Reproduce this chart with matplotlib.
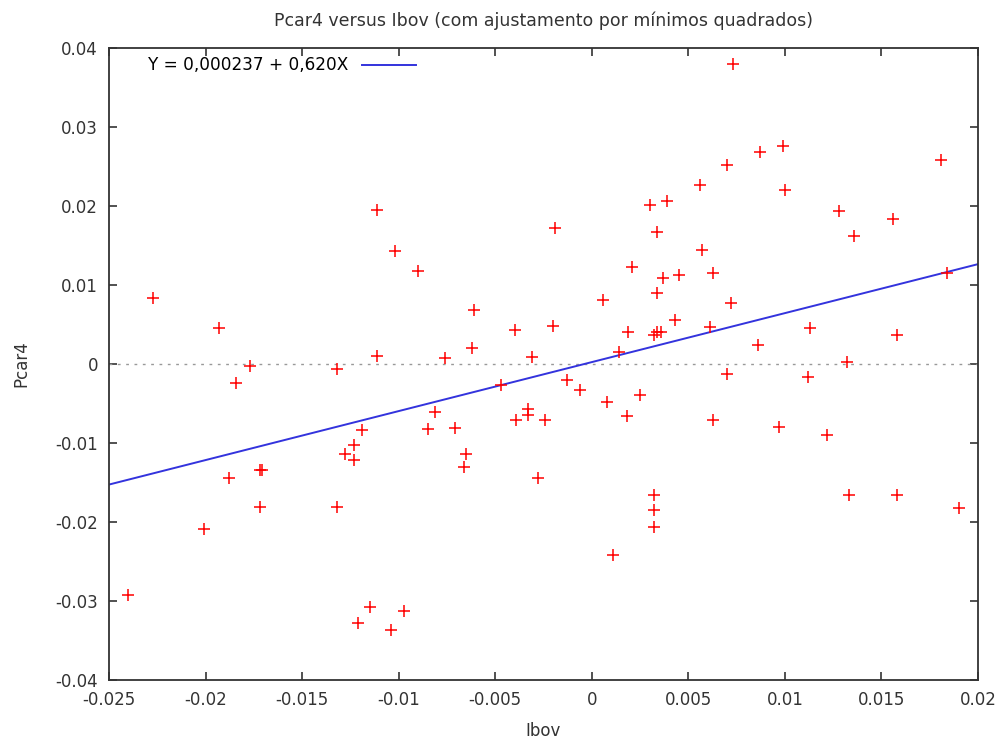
import numpy as np
import matplotlib
matplotlib.use('Agg')
import matplotlib.pyplot as plt

# dados (Ibov, Pcar4)
ibov = [-0.0240, -0.0227, -0.0201, -0.0193, -0.0188, -0.0184, -0.0177, -0.0172, -0.0171, -0.0172,
        -0.0132, -0.0132, -0.0128, -0.0123, -0.0123, -0.0119, -0.0121, -0.0115, -0.0111, -0.0111,
        -0.0104, -0.0102, -0.0097, -0.0090, -0.0085, -0.0081, -0.0076, -0.0071, -0.0066, -0.0065,
        -0.0062, -0.0061, -0.0047, -0.0040, -0.0039, -0.0033, -0.0033, -0.0031, -0.0028, -0.0024,
        -0.0020, -0.0019, -0.0013, -0.0006, 0.0006, 0.0008, 0.0011, 0.0014, 0.0018, 0.0019,
        0.0021, 0.0025, 0.0030, 0.0032, 0.0032, 0.0032, 0.0032, 0.0034, 0.0034, 0.0034,
        0.0036, 0.0037, 0.0039, 0.0043, 0.0045, 0.0056, 0.0057, 0.0061, 0.0063, 0.0063,
        0.0070, 0.0070, 0.0072, 0.0073, 0.0086, 0.0087, 0.0097, 0.0099, 0.0100, 0.0113,
        0.0112, 0.0122, 0.0128, 0.0132, 0.0133, 0.0136, 0.0156, 0.0158, 0.0158, 0.0181,
        0.0184, 0.0190]
pcar4 = [-0.0292, 0.0084, -0.0209, 0.0046, -0.0144, -0.0024, -0.0003, -0.0134, -0.0134, -0.0181,
         -0.0006, -0.0181, -0.0114, -0.0103, -0.0122, -0.0084, -0.0328, -0.0308, 0.0195, 0.0010,
         -0.0337, 0.0143, -0.0313, 0.0118, -0.0082, -0.0061, 0.0008, -0.0081, -0.0130, -0.0114,
         0.0020, 0.0068, -0.0027, 0.0043, -0.0071, -0.0057, -0.0065, 0.0009, -0.0144, -0.0071,
         0.0048, 0.0172, -0.0020, -0.0033, 0.0081, -0.0048, -0.0242, 0.0015, -0.0066, 0.0040,
         0.0123, -0.0039, 0.0201, 0.0037, -0.0166, -0.0185, -0.0206, 0.0167, 0.0090, 0.0040,
         0.0040, 0.0109, 0.0206, 0.0056, 0.0113, 0.0227, 0.0144, 0.0047, 0.0115, -0.0071,
         0.0252, -0.0013, 0.0077, 0.0380, 0.0024, 0.0268, -0.0080, 0.0276, 0.0220, 0.0046,
         -0.0016, -0.0090, 0.0194, 0.0003, -0.0166, 0.0162, 0.0184, 0.0037, -0.0166, 0.0258,
         0.0115, -0.0182]

a = 0.000237
b = 0.620

xticks = [-0.025, -0.02, -0.015, -0.01, -0.005, 0, 0.005, 0.01, 0.015, 0.02]
xlabels = ['-0.025', '-0.02', '-0.015', '-0.01', '-0.005', '0', '0.005', '0.01', '0.015', '0.02']
yticks = [-0.04, -0.03, -0.02, -0.01, 0, 0.01, 0.02, 0.03, 0.04]
ylabels = ['-0.04', '-0.03', '-0.02', '-0.01', '0', '0.01', '0.02', '0.03', '0.04']

fig = plt.figure(figsize=(10.03, 7.42), dpi=100)
ax = fig.add_axes([0.1087, 0.0836, 0.8663, 0.8517])

ax.axhline(0, color='#999999', linestyle=(0, (2, 4)), linewidth=1)
xx = np.linspace(-0.025, 0.02, 200)
ax.plot(xx, a + b * xx, color='#3333dd', linewidth=1.4, label='Y = 0,000237 + 0,620X')
ax.plot(ibov, pcar4, '+', color='red', markersize=8.5, markeredgewidth=1.1)

ax.set_xlim(-0.025, 0.02)
ax.set_ylim(-0.04, 0.04)
ax.set_xticks(xticks)
ax.set_xticklabels(xlabels)
ax.set_yticks(yticks)
ax.set_yticklabels(ylabels)
ax.tick_params(direction='in', top=True, right=True, length=6, width=1.2,
               labelsize=12, colors='#333333', pad=8)
for s in ax.spines.values():
    s.set_linewidth(1.3)
    s.set_color('#333333')

ax.set_xlabel('Ibov', fontsize=12, color='#333333', labelpad=9)
ax.set_ylabel('Pcar4', fontsize=12, color='#333333', labelpad=18)
ax.set_title('Pcar4 versus Ibov (com ajustamento por mínimos quadrados)', fontsize=12.5,
             color='#333333', pad=16)

ax.legend(loc='upper left', frameon=False, markerfirst=False, fontsize=12.2,
          handlelength=3.2, borderaxespad=0.1, bbox_to_anchor=(0.035, 1.0))

fig.savefig('out.png', dpi=100)
